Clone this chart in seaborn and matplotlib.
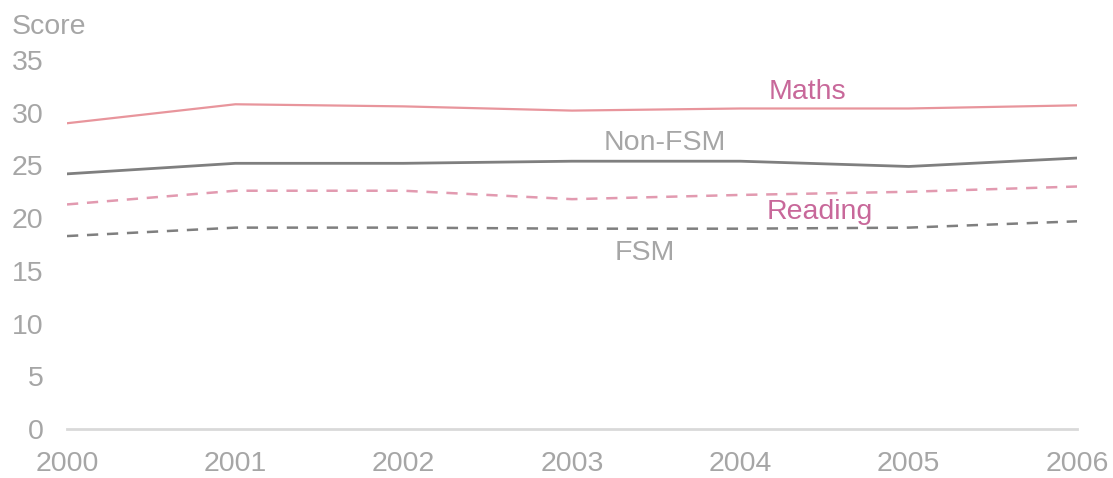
import matplotlib
matplotlib.use("Agg")
import matplotlib.pyplot as plt
import seaborn as sns
import pandas as pd

# Average scores by year
years = [2000, 2001, 2002, 2003, 2004, 2005, 2006]
maths = [29.0, 30.8, 30.6, 30.2, 30.4, 30.4, 30.7]
non_fsm = [24.2, 25.2, 25.2, 25.4, 25.4, 24.9, 25.7]
reading = [21.3, 22.6, 22.6, 21.8, 22.2, 22.5, 23.0]
fsm = [18.3, 19.1, 19.1, 19.0, 19.0, 19.1, 19.7]

series_names = ["Maths", "Non-FSM", "Reading", "FSM"]
series_values = [maths, non_fsm, reading, fsm]

y_ticks = [0, 5, 10, 15, 20, 25, 30, 35]

sns.set_theme(style="white")
plt.rcParams["font.family"] = ["Liberation Sans", "DejaVu Sans"]

TEXT_GREY = "#A6A6A6"
LINE_GREY = "#7F7F7F"
PINK_LINE = "#E8959C"
PINK_DASH = "#E29AB0"
PINK_TEXT = "#C8689A"

styles = {
    "Maths": dict(color=PINK_LINE, linewidth=1.6, linestyle="-"),
    "Non-FSM": dict(color=LINE_GREY, linewidth=2.0, linestyle="-"),
    "Reading": dict(color=PINK_DASH, linewidth=1.8, linestyle=(0, (4.5, 3.5))),
    "FSM": dict(color=LINE_GREY, linewidth=1.8, linestyle=(0, (4.5, 3.5))),
}

fig = plt.figure(figsize=(11.13, 4.78), dpi=100)
ax = fig.add_axes([0.0602, 0.1025, 0.9075, 0.772])

for name, vals in zip(series_names, series_values):
    df = pd.DataFrame({"year": years, "score": vals})
    sns.lineplot(data=df, x="year", y="score", ax=ax, **styles[name])

ax.set_xlim(years[0], years[-1])
ax.set_ylim(0, 35)
ax.set_xticks(years)
ax.set_xticklabels([str(y) for y in years])
ax.set_yticks(y_ticks)
ax.set_yticklabels([str(t) for t in y_ticks])
ax.set_xlabel("")
ax.set_ylabel("")

for side in ["top", "right", "left"]:
    ax.spines[side].set_visible(False)
ax.spines["bottom"].set_color("#D9D9D9")
ax.spines["bottom"].set_linewidth(2.0)
ax.grid(False)
ax.tick_params(axis="both", length=0, labelsize=20.5, labelcolor=TEXT_GREY)
ax.tick_params(axis="x", pad=16)
ax.tick_params(axis="y", pad=17)

# Series labels placed beside their lines
label_font = 20.5
ax.text(2004.40, 31.96, "Maths", color=PINK_TEXT, fontsize=label_font, ha="center", va="center")
ax.text(2003.55, 27.13, "Non-FSM", color=TEXT_GREY, fontsize=label_font, ha="center", va="center")
ax.text(2004.47, 20.58, "Reading", color=PINK_TEXT, fontsize=label_font, ha="center", va="center")
ax.text(2003.43, 16.69, "FSM", color=TEXT_GREY, fontsize=label_font, ha="center", va="center")

fig.text(12 / 1113, 1 - 27 / 478, "Score", color=TEXT_GREY, fontsize=20.5, ha="left", va="center")

fig.savefig("out.png", dpi=100, facecolor="white")
